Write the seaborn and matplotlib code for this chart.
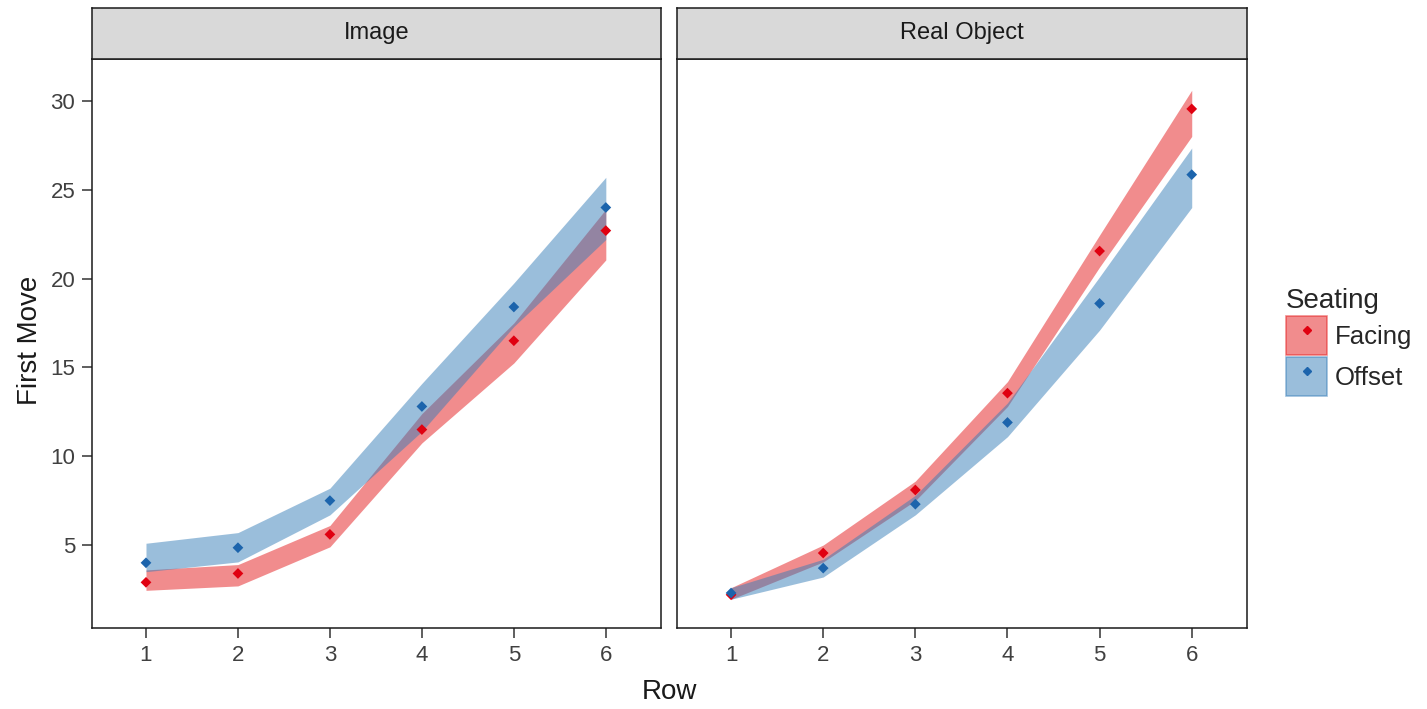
import numpy as np
import pandas as pd
import matplotlib
matplotlib.use("Agg")
import matplotlib.pyplot as plt
from matplotlib.patches import Patch
from matplotlib.lines import Line2D
import seaborn as sns

# data
rows = [1, 2, 3, 4, 5, 6]
panels = ["Image", "Real Object"]
seating = ["Facing", "Offset"]

image_facing_mean = [2.9, 3.4, 5.6, 11.5, 16.5, 22.7]
image_facing_lo = [2.45, 2.7, 4.9, 10.75, 15.25, 21.05]
image_facing_hi = [3.6, 3.9, 6.1, 12.4, 17.5, 23.9]
image_offset_mean = [4.0, 4.85, 7.5, 12.8, 18.4, 24.0]
image_offset_lo = [3.5, 4.05, 6.7, 11.4, 17.3, 22.2]
image_offset_hi = [5.1, 5.7, 8.2, 14.1, 19.75, 25.7]

real_facing_mean = [2.2, 4.55, 8.1, 13.55, 21.55, 29.55]
real_facing_lo = [1.95, 4.05, 7.5, 12.8, 20.65, 28.0]
real_facing_hi = [2.6, 5.0, 8.6, 14.2, 22.45, 30.6]
real_offset_mean = [2.3, 3.7, 7.3, 11.9, 18.6, 25.85]
real_offset_lo = [1.95, 3.2, 6.7, 11.1, 17.1, 24.0]
real_offset_hi = [2.6, 4.2, 7.8, 13.0, 20.1, 27.35]

fill_colors = {"Facing": "#E41A1C", "Offset": "#377EB8"}
point_colors = {"Facing": "#E00010", "Offset": "#1C64AC"}


def build_df():
    parts = []
    series = {
        ("Image", "Facing"): (image_facing_mean, image_facing_lo, image_facing_hi),
        ("Image", "Offset"): (image_offset_mean, image_offset_lo, image_offset_hi),
        ("Real Object", "Facing"): (real_facing_mean, real_facing_lo, real_facing_hi),
        ("Real Object", "Offset"): (real_offset_mean, real_offset_lo, real_offset_hi),
    }
    for (panel, seat), (m, lo, hi) in series.items():
        parts.append(pd.DataFrame({"Panel": panel, "Seating": seat, "Row": rows,
                                   "FirstMove": m, "lo": lo, "hi": hi}))
    return pd.concat(parts, ignore_index=True)


def main():
    df = build_df()
    sns.set_style("white")
    plt.rcParams["font.family"] = ["Liberation Sans", "DejaVu Sans"]

    W, H = 1427, 709
    fig = plt.figure(figsize=(W / 100, H / 100), dpi=100)

    lefts = [92, 677]
    widths = [569, 570]
    ax_bottom, ax_top, strip_top = 628, 59, 8

    for i, panel in enumerate(panels):
        ax = fig.add_axes([lefts[i] / W, 1 - ax_bottom / H, widths[i] / W, (ax_bottom - ax_top) / H])
        sub = df[df["Panel"] == panel]
        for seat in seating:
            s = sub[sub["Seating"] == seat]
            ax.fill_between(s["Row"], s["lo"], s["hi"], color=fill_colors[seat], alpha=0.5, lw=0)
        sns.scatterplot(data=sub, x="Row", y="FirstMove", hue="Seating", palette=point_colors,
                        marker="D", s=30, linewidth=0, legend=False, ax=ax, zorder=3)
        ax.set_xlim(0.413, 6.6)
        ax.set_ylim(0.33, 32.36)
        ax.set_xticks(rows)
        ax.set_yticks([5, 10, 15, 20, 25, 30])
        ax.set_xlabel("")
        ax.set_ylabel("")
        for sp in ax.spines.values():
            sp.set_visible(True)
            sp.set_color("#1a1a1a")
            sp.set_linewidth(1.1)
        ax.tick_params(axis="both", direction="out", length=7, width=1.1, color="#333333",
                       labelsize=16, labelcolor="#404040", pad=5, bottom=True, left=(i == 0))
        if i > 0:
            ax.set_yticklabels([])
            ax.tick_params(axis="y", left=False)

        strip = fig.add_axes([lefts[i] / W, 1 - ax_top / H, widths[i] / W, (ax_top - strip_top) / H])
        strip.set_facecolor("#D9D9D9")
        strip.set_xticks([])
        strip.set_yticks([])
        for sp in strip.spines.values():
            sp.set_color("#1a1a1a")
            sp.set_linewidth(1.1)
        strip.text(0.5, 0.5, panel, ha="center", va="center", fontsize=17, color="#1a1a1a",
                   transform=strip.transAxes)

    fig.text(669 / W, 1 - 692 / H, "Row", ha="center", va="center", fontsize=20, color="#1a1a1a")
    fig.text(30 / W, 1 - 340 / H, "First Move", ha="center", va="center", rotation=90,
             fontsize=20, color="#1a1a1a")

    handles = []
    for seat in seating:
        box = Patch(facecolor=fill_colors[seat], alpha=0.5, edgecolor=fill_colors[seat], linewidth=1.2)
        dot = Line2D([], [], marker="D", color=point_colors[seat], linestyle="", markersize=4.5)
        handles.append((box, dot))
    leg = fig.legend(handles, seating, title="Seating", loc="upper left",
                     bbox_to_anchor=(1286 / W, 1 - 288 / H), frameon=False, fontsize=18.5,
                     title_fontsize=20, handlelength=1.6, handleheight=2.0,
                     handletextpad=0.3, labelspacing=0.06, borderpad=0, borderaxespad=0)
    leg._legend_box.align = "left"

    fig.savefig("out.png", dpi=100)
    plt.close(fig)


if __name__ == "__main__":
    main()
